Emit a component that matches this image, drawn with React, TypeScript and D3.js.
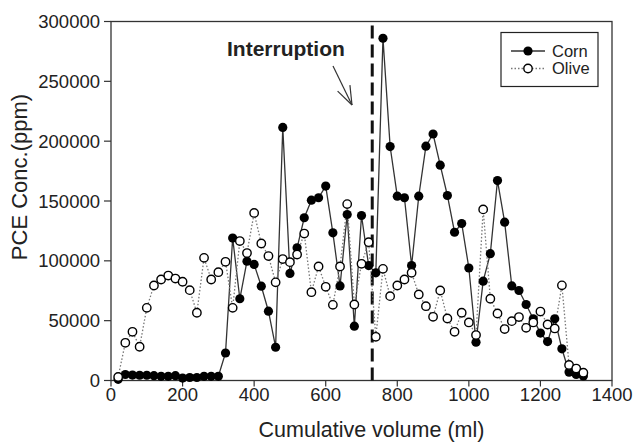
import React from "react";
import * as d3 from "d3";

const volumes = [
  20, 40, 60, 80, 100, 120, 140, 160, 180, 200, 220, 240, 260, 280, 300, 320, 340, 360, 380, 400,
  420, 440, 460, 480, 500, 520, 540, 560, 580, 600, 620, 640, 660, 680, 700, 720, 740, 760, 780, 800,
  820, 840, 860, 880, 900, 920, 940, 960, 980, 1000, 1020, 1040, 1060, 1080, 1100, 1120, 1140, 1160,
  1180, 1200, 1220, 1240, 1260, 1280, 1300, 1320,
];

const corn = [
  1000, 5000, 4500, 4400, 4400, 4000, 3500, 3500, 4000, 2000, 2500, 2500, 3500, 3500, 3500, 23000,
  119000, 68300, 99700, 97000, 78800, 57900, 27800, 211500, 89500, 110900, 136000, 150700, 152700,
  162500, 123400, 79000, 138700, 45400, 137900, 96000, 90000, 286000, 195500, 154000, 152700, 96100,
  154000, 195800, 206000, 179900, 154600, 123900, 131200, 94000, 32000, 83000, 106000, 167100, 132300,
  79000, 75200, 63500, 51500, 39600, 32500, 51600, 26500, 7000, 5000, 3800,
];

const olive = [
  3000, 31500, 40700, 28200, 60700, 79400, 84400, 87700, 85200, 82500, 75500, 56600, 102500, 84400,
  90500, 99200, 60700, 116500, 106500, 140000, 114500, 104000, 82000, 101500, 98900, 105300, 122800,
  73800, 95300, 78300, 63200, 95300, 147400, 63500, 97500, 115600, 36500, 93300, 70500, 79400, 84400,
  90000, 71900, 62100, 53200, 75200, 51800, 40700, 56600, 48500, 38000, 143000, 68300, 56000, 43000,
  49600, 53000, 44000, 48500, 57600, 46800, 43500, 79500, 13000, 10000, 6500,
];

const xTicks = [0, 200, 400, 600, 800, 1000, 1200, 1400];
const yTicks = [0, 50000, 100000, 150000, 200000, 250000, 300000];
const interruptionVolume = 730;

const W = 635;
const H = 443;
const L = 111;
const R = 612;
const T = 21.5;
const B = 380.5;
const FONT = "'Liberation Sans', Arial, sans-serif";

export default function App() {
  const x = d3.scaleLinear().domain([0, 1400]).range([L, R]);
  const y = d3.scaleLinear().domain([0, 300000]).range([B, T]);

  const line = d3
    .line<number>()
    .x((_, i) => x(volumes[i]))
    .y((d) => y(d));

  const ix = x(interruptionVolume);

  // arrow geometry
  const tip = { x: 352, y: 105 };
  const tail = { x: 333, y: 66 };
  const ang = Math.atan2(tail.y - tip.y, tail.x - tip.x);
  const hl = 20;
  const ha = (20 * Math.PI) / 180;
  const h1 = { x: tip.x + hl * Math.cos(ang + ha), y: tip.y + hl * Math.sin(ang + ha) };
  const h2 = { x: tip.x + hl * Math.cos(ang - ha), y: tip.y + hl * Math.sin(ang - ha) };

  return (
    <svg
      width={W}
      height={H}
      style={{ position: "absolute", left: 0, top: 0, background: "#fff" }}
      fontFamily={FONT}
    >
      <rect x={0} y={0} width={W} height={H} fill="#fff" />
      {/* frame */}
      <rect x={L} y={T} width={R - L} height={B - T} fill="none" stroke="#333" strokeWidth={1.3} />

      {/* y axis ticks */}
      {yTicks.map((t) => (
        <g key={"y" + t}>
          <line x1={L - 7} x2={L} y1={y(t)} y2={y(t)} stroke="#333" strokeWidth={1.2} />
          <text x={L - 11} y={y(t)} dy="0.36em" textAnchor="end" fontSize={18.5} fill="#222">
            {t}
          </text>
        </g>
      ))}
      {/* x axis ticks */}
      {xTicks.map((t) => (
        <g key={"x" + t}>
          <line x1={x(t)} x2={x(t)} y1={B} y2={B + 6} stroke="#333" strokeWidth={1.2} />
          <text x={x(t)} y={B + 20} textAnchor="middle" fontSize={18.5} fill="#222">
            {t}
          </text>
        </g>
      ))}

      {/* axis titles */}
      <text x={(L + R) / 2 + 10} y={437} textAnchor="middle" fontSize={21.5} fill="#222">
        Cumulative volume (ml)
      </text>
      <text
        transform={`translate(27, ${(T + B) / 2 - 24}) rotate(-90)`}
        textAnchor="middle"
        fontSize={22}
        fill="#222"
      >
        PCE Conc.(ppm)
      </text>

      {/* interruption line */}
      <line
        x1={ix}
        x2={ix}
        y1={T + 4}
        y2={B}
        stroke="#111"
        strokeWidth={3}
        strokeDasharray="13,6"
      />
      <text x={227} y={56} fontSize={21} fontWeight="bold" fill="#222">
        Interruption
      </text>
      <line x1={tail.x} y1={tail.y} x2={tip.x} y2={tip.y} stroke="#333" strokeWidth={1.2} />
      <line x1={tip.x} y1={tip.y} x2={h1.x} y2={h1.y} stroke="#333" strokeWidth={1.2} />
      <line x1={tip.x} y1={tip.y} x2={h2.x} y2={h2.y} stroke="#333" strokeWidth={1.2} />

      {/* corn line */}
      <path d={line(corn) || ""} fill="none" stroke="#333" strokeWidth={1.3} />
      {/* olive line */}
      <path
        d={line(olive) || ""}
        fill="none"
        stroke="#777"
        strokeWidth={1.3}
        strokeDasharray="1.5,2"
      />
      {/* corn markers */}
      {corn.map((v, i) => (
        <circle key={"c" + i} cx={x(volumes[i])} cy={y(v)} r={4.6} fill="#000" />
      ))}
      {/* olive markers */}
      {olive.map((v, i) => (
        <circle
          key={"o" + i}
          cx={x(volumes[i])}
          cy={y(v)}
          r={4.2}
          fill="#fff"
          stroke="#000"
          strokeWidth={1.4}
        />
      ))}

      {/* legend */}
      <rect x={501} y={32.5} width={97} height={54} fill="#fff" stroke="#222" strokeWidth={1.2} />
      <line x1={511} x2={545} y1={51} y2={51} stroke="#333" strokeWidth={1.3} />
      <circle cx={528} cy={51} r={4.6} fill="#000" />
      <text x={552} y={51} dy="0.36em" fontSize={16.5} fill="#222">
        Corn
      </text>
      <line
        x1={511}
        x2={545}
        y1={68.5}
        y2={68.5}
        stroke="#777"
        strokeWidth={1.3}
        strokeDasharray="1.5,2"
      />
      <circle cx={528} cy={68.5} r={4.2} fill="#fff" stroke="#000" strokeWidth={1.4} />
      <text x={552} y={68.5} dy="0.36em" fontSize={16.5} fill="#222">
        Olive
      </text>
    </svg>
  );
}
